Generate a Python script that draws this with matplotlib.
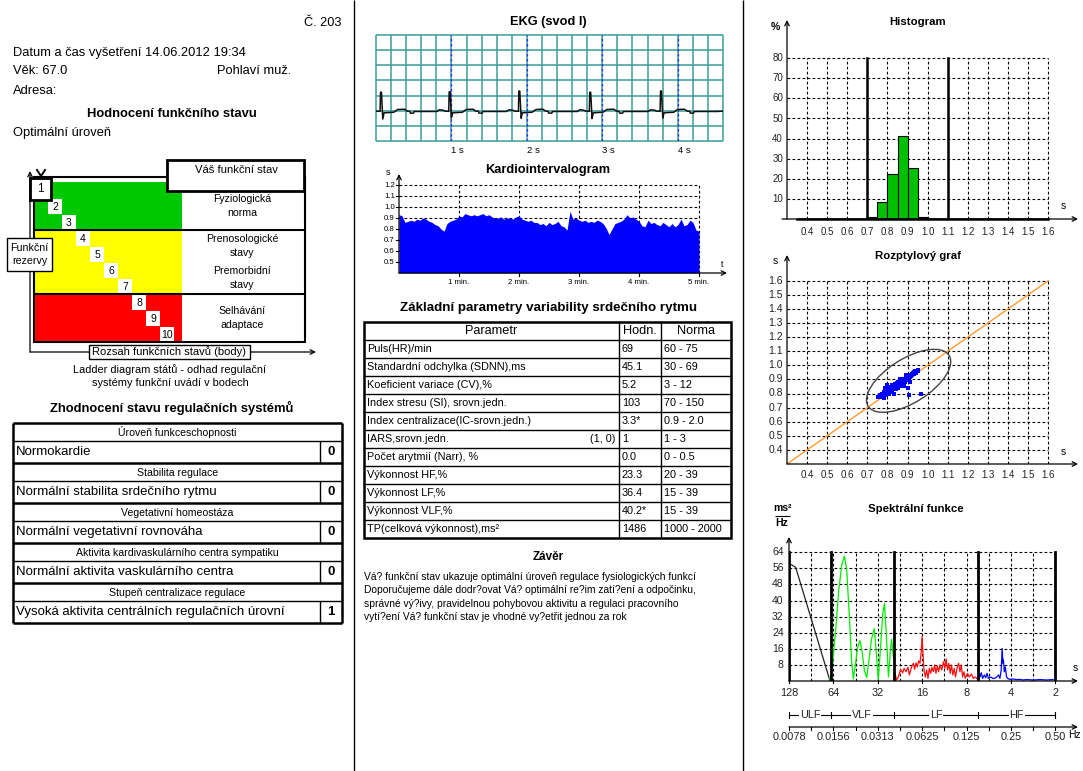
import numpy as np
import matplotlib
matplotlib.use('Agg')
import matplotlib.pyplot as plt
from matplotlib.patches import Rectangle, Ellipse

plt.rcParams['font.family'] = ['Liberation Sans', 'DejaVu Sans']

# ---------------- data ----------------
report_no = "Č. 203"
exam_datetime = "14.06.2012 19:34"
patient_age = "67.0"
patient_sex = "muž."
overall_state = "Optimální úroveň"

ladder_steps = [1, 2, 3, 4, 5, 6, 7, 8, 9, 10]
current_step = 1
zone_last_step = [3, 7, 10]
zone_colors = ['#00c800', '#ffff00', '#ff0000']
zone_labels = ["Fyziologická\nnorma", "Prenosologické\nstavy", "Premorbidní\nstavy", "Selhávání\nadaptace"]

reg_headers = ["Úroveň funkceschopnosti", "Stabilita regulace", "Vegetativní homeostáza",
               "Aktivita kardivaskulárního centra sympatiku", "Stupeň centralizace regulace"]
reg_results = ["Normokardie", "Normální stabilita srdečního rytmu", "Normální vegetativní rovnováha",
               "Normální aktivita vaskulárního centra", "Vysoká aktivita centrálních regulačních úrovní"]
reg_scores = [0, 0, 0, 0, 1]

param_names = ["Puls(HR)/min", "Standardní odchylka (SDNN),ms", "Koeficient variace (CV),%",
               "Index stresu (SI), srovn.jedn.", "Index centralizace(IC-srovn.jedn.)", "IARS,srovn.jedn.",
               "Počet arytmií (Narr), %", "Výkonnost HF,%", "Výkonnost LF,%", "Výkonnost VLF,%",
               "TP(celková výkonnost),ms²"]
param_extra = ["", "", "", "", "", "(1, 0)", "", "", "", "", ""]
param_values = ["69", "45.1", "5.2", "103", "3.3*", "1", "0.0", "23.3", "36.4", "40.2*", "1486"]
param_norms = ["60 - 75", "30 - 69", "3 - 12", "70 - 150", "0.9 - 2.0", "1 - 3", "0 - 0.5",
               "20 - 39", "15 - 39", "15 - 39", "1000 - 2000"]

conclusion_lines = [
    "Vá? funkční stav ukazuje optimální úroveň regulace fysiologických funkcí",
    "Doporučujeme dále dodr?ovat Vá? optimální re?im zatí?ení a odpočinku,",
    "správné vý?ivy, pravidelnou pohybovou aktivitu a regulaci pracovního",
    "vytí?ení Vá? funkční stav je vhodné vy?etřit jednou za rok",
]

# EKG (seconds, grid rows)
ekg_r_times = [0.066, 0.976, 1.900, 2.840, 3.778]
ekg_r_peak = [3.22, 3.25, 3.30, 3.22, 3.30]
ekg_s_dip = [1.45, 1.55, 1.50, 1.48, 1.52]
ekg_beat_dt = [-0.17, -0.14, -0.09, -0.06, -0.012, -0.006, 0.006, 0.024, 0.04, 0.17, 0.22,
               0.31, 0.35, 0.38, 0.39, 0.43, 0.44, 0.74]
ekg_beat_lv = [1.95, 2.06, 2.04, 1.97, 1.96, 'R', 'R', 'S', 1.86, 1.90, 2.08,
               2.10, 1.97, 1.97, 1.84, 1.84, 1.95, 1.95]
ekg_duration = 4.6

# Kardiointervalogram RR (s), one value every 3 s over 5 min
rr_values = [0.93, 0.92, 0.86, 0.87, 0.88, 0.87, 0.89, 0.88, 0.90, 0.89,
             0.87, 0.86, 0.84, 0.83, 0.80, 0.78, 0.85, 0.87, 0.88, 0.89,
             0.92, 0.91, 0.94, 0.93, 0.92, 0.93, 0.92, 0.93, 0.94, 0.92,
             0.93, 0.91, 0.90, 0.90, 0.91, 0.89, 0.90, 0.90, 0.89, 0.91,
             0.92, 0.89, 0.88, 0.87, 0.88, 0.86, 0.86, 0.84, 0.85, 0.83,
             0.86, 0.84, 0.85, 0.87, 0.83, 0.82, 0.79, 0.96, 0.89, 0.90,
             0.88, 0.87, 0.88, 0.86, 0.87, 0.86, 0.88, 0.87, 0.85, 0.81,
             0.75, 0.80, 0.85, 0.86, 0.87, 0.89, 0.93, 0.90, 0.91, 0.89,
             0.87, 0.83, 0.82, 0.88, 0.85, 0.86, 0.84, 0.83, 0.86, 0.84,
             0.82, 0.85, 0.82, 0.84, 0.89, 0.83, 0.84, 0.88, 0.86, 0.79, 0.78]

# Histogram
hist_left = [0.70, 0.75, 0.80, 0.85, 0.90, 0.95]
hist_pct = [0.8, 8.5, 22.5, 41.5, 25.5, 1.2]
hist_limits = [0.7, 1.1]

# Scatter (RR_n, RR_n+1)
sc_x = [0.755, 0.762, 0.770, 0.775, 0.781, 0.785, 0.788, 0.792, 0.795, 0.798, 0.801, 0.803,
        0.806, 0.808, 0.811, 0.813, 0.815, 0.818, 0.820, 0.822, 0.824, 0.826, 0.829, 0.831,
        0.833, 0.835, 0.838, 0.840, 0.842, 0.845, 0.847, 0.850, 0.852, 0.855, 0.857, 0.860,
        0.862, 0.864, 0.867, 0.869, 0.872, 0.874, 0.877, 0.879, 0.882, 0.884, 0.887, 0.889,
        0.892, 0.895, 0.897, 0.900, 0.903, 0.906, 0.909, 0.912, 0.915, 0.918, 0.921, 0.924,
        0.927, 0.930, 0.934, 0.938, 0.942, 0.946, 0.950, 0.953, 0.800, 0.830, 0.860, 0.890,
        0.910, 0.850, 0.880, 0.820, 0.900, 0.965, 0.905, 0.790]
sc_y = [0.772, 0.790, 0.778, 0.800, 0.770, 0.812, 0.795, 0.790, 0.825, 0.805, 0.830, 0.815,
        0.800, 0.840, 0.822, 0.810, 0.845, 0.828, 0.850, 0.815, 0.838, 0.860, 0.830, 0.848,
        0.855, 0.842, 0.868, 0.835, 0.862, 0.850, 0.875, 0.858, 0.842, 0.880, 0.866, 0.872,
        0.888, 0.855, 0.878, 0.892, 0.870, 0.885, 0.896, 0.875, 0.900, 0.888, 0.905, 0.880,
        0.912, 0.895, 0.918, 0.905, 0.920, 0.910, 0.925, 0.915, 0.932, 0.922, 0.940, 0.930,
        0.945, 0.935, 0.950, 0.958, 0.948, 0.962, 0.958, 0.970, 0.860, 0.800, 0.900, 0.930,
        0.880, 0.880, 0.850, 0.860, 0.840, 0.800, 0.790, 0.840]
ellipse_center = (0.905, 0.89)
ellipse_axes = (0.55, 0.27)
ellipse_angle = 48

# Spectrum (x = octaves above 1/128 Hz, y = ms^2/Hz)
ulf_oct = [0.0, 0.15, 0.92]
ulf_val = [58.5, 56.5, 0.3]
vlf_oct = [0.92, 0.98, 1.05, 1.12, 1.19, 1.25, 1.30, 1.36, 1.41, 1.45, 1.50, 1.55, 1.60, 1.65,
           1.70, 1.75, 1.80, 1.86, 1.92, 1.97, 2.01, 2.06, 2.11, 2.15, 2.19, 2.24, 2.28, 2.31, 2.35]
vlf_val = [0.5, 8, 25, 45, 58, 62, 55, 32, 10, 1, 9, 17, 20, 14,
           5, 1.7, 10, 21, 26, 13, 0.5, 16, 33, 38.5, 24, 2, 14, 20.8, 12]
lf_oct = [2.36, 2.387, 2.425, 2.462, 2.515, 2.56, 2.59, 2.635, 2.68, 2.71, 2.74, 2.77, 2.80,
          2.83, 2.86, 2.89, 2.92, 2.95, 2.98, 2.995, 3.018, 3.04, 3.07, 3.10, 3.13, 3.16, 3.19,
          3.22, 3.25, 3.28, 3.31, 3.34, 3.37, 3.40, 3.44, 3.48, 3.51, 3.54, 3.57, 3.60, 3.63,
          3.66, 3.69, 3.72, 3.75, 3.79, 3.82, 3.85, 3.88, 3.91, 3.94, 3.97, 4.02, 4.06, 4.11,
          4.15, 4.20, 4.24, 4.27]
lf_val = [4.0, 3.8, 0.5, 2.0, 5.8, 4.0, 6.3, 4.6, 6.8, 3.0, 5.5, 7.5, 8.8,
          5.8, 9.0, 7.0, 10.0, 8.8, 15.0, 22.0, 13.7, 5.5, 2.0, 5.5, 1.3, 6.3, 3.8,
          6.8, 4.6, 8.0, 3.8, 7.5, 4.6, 8.0, 5.5, 9.6, 6.3, 11.0, 5.5, 8.8, 3.8,
          8.0, 3.0, 6.3, 2.0, 7.0, 8.8, 4.6, 8.0, 2.0, 4.6, 1.3, 3.8, 2.0, 3.5,
          1.3, 2.0, 1.0, 1.3]
hf_oct = [4.27, 4.30, 4.33, 4.36, 4.40, 4.43, 4.46, 4.49, 4.54, 4.60, 4.66, 4.72, 4.75, 4.78,
          4.80, 4.82, 4.83, 4.85, 4.87, 4.90, 4.93, 4.98, 5.05, 5.12, 5.20, 5.27, 5.35, 5.50,
          5.65, 5.80, 5.95]
hf_val = [3.8, 2.0, 4.1, 1.3, 3.0, 1.6, 3.8, 1.3, 2.0, 1.2, 1.6, 3.0, 1.3, 5.5,
          16.2, 8.8, 10.4, 4.6, 7.0, 2.0, 1.2, 0.8, 1.0, 0.7, 0.8, 0.5, 0.7, 0.5,
          0.7, 0.5, 0.7]
band_hz = [0.0078125, 0.015, 0.04, 0.15, 0.5]
band_names = ["ULF", "VLF", "LF", "HF"]
period_labels = ["128", "64", "32", "16", "8", "4", "2"]
freq_labels = ["0.0078", "0.0156", "0.0313", "0.0625", "0.125", "0.25", "0.50"]

# ---------------- figure ----------------
W, H = 1083, 771
fig = plt.figure(figsize=(W / 100, H / 100), dpi=100)
fig.patch.set_facecolor('white')
bg = fig.add_axes([0, 0, 1, 1])
bg.set_xlim(0, W)
bg.set_ylim(H, 0)
bg.axis('off')


def pax(x0, y0, x1, y1):
    a = fig.add_axes([x0 / W, 1 - y1 / H, (x1 - x0) / W, (y1 - y0) / H])
    a.axis('off')
    return a


def arrow(ax, x0, y0, x1, y1, lw=0.9):
    ax.annotate('', xy=(x1, y1), xytext=(x0, y0),
                arrowprops=dict(arrowstyle='->', lw=lw, color='black', shrinkA=0, shrinkB=0,
                                mutation_scale=8),
                annotation_clip=False)


def hline(ax, x0, x1, y, **kw):
    ax.plot([x0, x1], [y, y], solid_capstyle='butt', **kw)


def vline(ax, x, y0, y1, **kw):
    ax.plot([x, x], [y0, y1], solid_capstyle='butt', **kw)


DASH = dict(color='black', lw=0.8, dashes=(2.5, 2))

# column separators
vline(bg, 353.5, 0, H, color='black', lw=1)
vline(bg, 742.5, 0, H, color='black', lw=1)

# ---------------- left column ----------------
bg.text(341, 23, report_no, ha='right', va='center', fontsize=9.2)
bg.text(13, 53, "Datum a čas vyšetření " + exam_datetime, ha='left', va='center', fontsize=9.3)
bg.text(13, 71, "Věk: " + patient_age, ha='left', va='center', fontsize=9.3)
bg.text(217, 71, "Pohlaví " + patient_sex, ha='left', va='center', fontsize=9.3)
bg.text(13, 91, "Adresa:", ha='left', va='center', fontsize=9.3)
bg.text(172, 114, "Hodnocení funkčního stavu", ha='center', va='center', fontsize=9.4, fontweight='bold')
bg.text(13, 133, overall_state, ha='left', va='center', fontsize=9.3)

# ladder diagram
LX0, LX1, LXC = 34, 305, 182
row_h, top0 = 16, 182
bounds = [top0]
for last in zone_last_step:
    bounds.append(top0 + row_h * last)
for k, col in enumerate(zone_colors):
    bg.add_patch(Rectangle((LX0, bounds[k]), LXC - LX0, bounds[k + 1] - bounds[k],
                           facecolor=col, edgecolor='none', zorder=1))
bg.add_patch(Rectangle((LX0, 177), LX1 - LX0, bounds[-1] - 177, facecolor='none',
                       edgecolor='black', lw=1.5, zorder=3))
for b in bounds[1:-1]:
    hline(bg, LX0, LX1, b, color='black', lw=1.5, zorder=3)
for s in ladder_steps:
    if s == current_step:
        continue
    bx = 20 + 14 * s
    by = top0 + row_h * (s - 1) + 1
    bg.add_patch(Rectangle((bx, by), 14, 15, facecolor='white', edgecolor='none', zorder=2))
    bg.text(bx + 7, by + 7.5, str(s), ha='center', va='center', fontsize=7.5, zorder=4)
bg.add_patch(Rectangle((30, 178), 21, 22, facecolor='white', edgecolor='black', lw=2, zorder=5))
bg.text(40.5, 189, str(current_step), ha='center', va='center', fontsize=8.5, zorder=6)
bg.plot([37, 41, 45], [170, 176, 170], color='black', lw=1.4, zorder=6)

label_y = [206, 246, 278, 318]
for lab, yy in zip(zone_labels, label_y):
    bg.text(242, yy, lab, ha='center', va='center', fontsize=7.6, linespacing=1.55, zorder=4)

bg.add_patch(Rectangle((167, 160), 137, 31, facecolor='white', edgecolor='black', lw=2, zorder=5))
bg.text(236, 170, "Váš funkční stav", ha='center', va='center', fontsize=8.1, zorder=6)

arrow(bg, 30, 352, 30, 171)
arrow(bg, 30, 352, 316, 352)
bg.add_patch(Rectangle((7, 238), 45, 33, facecolor='white', edgecolor='black', lw=1, zorder=5))
bg.text(29.5, 254.5, "Funkční\nrezervy", ha='center', va='center', fontsize=7.7, linespacing=1.35, zorder=6)
bg.add_patch(Rectangle((89, 345), 161, 14, facecolor='white', edgecolor='black', lw=1, zorder=5))
bg.text(169.5, 352, "Rozsah funkčních stavů (body)", ha='center', va='center', fontsize=8, zorder=6)
bg.text(170, 376, "Ladder diagram států - odhad regulační\nsystémy funkční uvádí v bodech",
        ha='center', va='center', fontsize=7.9, linespacing=1.4)

# regulation systems table
bg.text(172, 408, "Zhodnocení stavu regulačních systémů", ha='center', va='center',
        fontsize=9.4, fontweight='bold')
TX0, TX1, TXS = 13, 342, 320
for k, (hd, res, sc) in enumerate(zip(reg_headers, reg_results, reg_scores)):
    y0 = 423 + 40 * k
    bg.text((TX0 + TX1) / 2, y0 + 9.5, hd, ha='center', va='center', fontsize=7.6)
    bg.text(TX0 + 3, y0 + 29, res, ha='left', va='center', fontsize=9.5)
    bg.text((TXS + TX1) / 2, y0 + 29, str(sc), ha='center', va='center', fontsize=9.5, fontweight='bold')
    hline(bg, TX0, TX1, y0 + 18, color='black', lw=1)
    vline(bg, TXS, y0 + 18, y0 + 40, color='black', lw=1)
    hline(bg, TX0, TX1, y0, color='black', lw=1.8)
hline(bg, TX0, TX1, 623, color='black', lw=1.8)
vline(bg, TX0, 423, 623, color='black', lw=1.8)
vline(bg, TX1, 423, 623, color='black', lw=1.8)

# ---------------- middle column ----------------
# EKG
bg.text(548, 22, "EKG (svod I)", ha='center', va='center', fontsize=9.2, fontweight='bold')
axe = pax(376, 35, 723, 141)
axe.set_xlim(0, ekg_duration)
axe.set_ylim(0, 7)
grid_col = '#3b9c97'
for i in range(24):
    vline(axe, i * 0.2, 0, 7, color=grid_col, lw=1.1, clip_on=False)
for j in range(8):
    hline(axe, 0, ekg_duration, j, color=grid_col, lw=1.1, clip_on=False)
for sec in [1, 2, 3, 4]:
    axe.plot([sec, sec], [0, 7], color='#2b2bff', lw=0.9, dashes=(2, 2), zorder=3)
    axe.text(sec, -0.6, f"{sec} s", ha='left', va='center', fontsize=6.8)
ekg_t, ekg_v = [0.0], [1.97]
for rt, rp, sd in zip(ekg_r_times, ekg_r_peak, ekg_s_dip):
    for dt, lv in zip(ekg_beat_dt, ekg_beat_lv):
        tt = rt + dt
        if tt <= ekg_t[-1] or tt >= ekg_duration:
            continue
        ekg_t.append(tt)
        ekg_v.append(rp if lv == 'R' else (sd if lv == 'S' else lv))
ekg_t.append(ekg_duration)
ekg_v.append(1.97)
axe.plot(ekg_t, ekg_v, color='#111111', lw=1.1, zorder=4)

# Kardiointervalogram
bg.text(548, 170, "Kardiointervalogram", ha='center', va='center', fontsize=9.2, fontweight='bold')
axk = pax(399, 174, 727, 273)
axk.set_xlim(0, 328 / 60)
axk.set_ylim(0.4, 1.3)
t_min = np.linspace(0, 5, len(rr_values))
for v in [0.9, 1.0, 1.1, 1.2]:
    axk.plot([0, 5], [v, v], zorder=1, **DASH)
for m in [1, 2, 3, 4, 5]:
    axk.plot([m, m], [0.4, 1.2], zorder=1, **DASH)
axk.fill_between(t_min, 0.4, rr_values, color='#0000ff', lw=0, zorder=2)
arrow(axk, 0, 0.4, 0, 1.3)
arrow(axk, 0, 0.4, 328 / 60, 0.4)
for v in [0.5, 0.6, 0.7, 0.8, 0.9, 1.0, 1.1, 1.2]:
    axk.plot([-0.05, 0], [v, v], color='black', lw=0.8, clip_on=False)
    axk.text(-0.07, v, f"{v:.1f}", ha='right', va='center', fontsize=5.6)
for m in [1, 2, 3, 4, 5]:
    axk.plot([m, m], [0.4, 0.37], color='black', lw=0.8, clip_on=False)
    axk.text(m, 0.318, f"{m} min.", ha='center', va='center', fontsize=5.6)
axk.text(-0.18, 1.31, "s", ha='center', va='center', fontsize=6.5)
axk.text(5.38, 0.475, "t", ha='center', va='center', fontsize=6.5)

# parameters table
bg.text(548, 308, "Základní parametry variability srdečního rytmu", ha='center', va='center',
        fontsize=9.6, fontweight='bold')
PX0, PX1, PC1, PC2 = 364, 731, 619, 661
PY0, PRH = 322, 18
n_rows = len(param_names) + 1
bg.add_patch(Rectangle((PX0, PY0), PX1 - PX0, PRH * n_rows, facecolor='none', edgecolor='black', lw=1.8))
vline(bg, PC1, PY0, PY0 + PRH * n_rows, color='black', lw=1)
vline(bg, PC2, PY0, PY0 + PRH * n_rows, color='black', lw=1)
for r in range(1, n_rows):
    hline(bg, PX0, PX1, PY0 + PRH * r, color='black', lw=1)
bg.text((PX0 + PC1) / 2, PY0 + 9.5, "Parametr", ha='center', va='center', fontsize=9.2)
bg.text((PC1 + PC2) / 2, PY0 + 9.5, "Hodn.", ha='center', va='center', fontsize=9.2)
bg.text((PC2 + PX1) / 2, PY0 + 9.5, "Norma", ha='center', va='center', fontsize=9.2)
for i, (nm, ex, vl, nr) in enumerate(zip(param_names, param_extra, param_values, param_norms)):
    yc = PY0 + PRH * (i + 1) + 9.5
    bg.text(PX0 + 3, yc, nm, ha='left', va='center', fontsize=7.8)
    if ex:
        bg.text(PC1 - 4, yc, ex, ha='right', va='center', fontsize=7.8)
    bg.text(PC1 + 3, yc, vl, ha='left', va='center', fontsize=7.8)
    bg.text(PC2 + 3, yc, nr, ha='left', va='center', fontsize=7.8)

bg.text(548, 557, "Závěr", ha='center', va='center', fontsize=8.4, fontweight='bold')
for i, line in enumerate(conclusion_lines):
    bg.text(364, 577 + 13.4 * i, line, ha='left', va='center', fontsize=7.4)

# ---------------- right column ----------------
# Histogram
bg.text(918, 22, "Histogram", ha='center', va='center', fontsize=8.2, fontweight='bold')
axh = pax(787, 20, 1078, 219)
axh.set_xlim(0.3, 0.3 + 291 / 201)
axh.set_ylim(0, 199 / 2.01)
ticks_s = [0.4, 0.5, 0.6, 0.7, 0.8, 0.9, 1.0, 1.1, 1.2, 1.3, 1.4, 1.5, 1.6]
for v in [10, 20, 30, 40, 50, 60, 70, 80]:
    axh.plot([0.3, 1.6], [v, v], zorder=1, **DASH)
    axh.text(0.28, v, str(v), ha='right', va='center', fontsize=7, color='#222222')
for x in ticks_s:
    axh.plot([x, x], [0, 80], zorder=1, **DASH)
    axh.text(x, -6.5, f"{x:.1f}", ha='center', va='center', fontsize=7, color='#222222')
axh.bar(hist_left, hist_pct, width=0.05, align='edge', color='#00c000', edgecolor='black', lw=0.8, zorder=3)
for lim in hist_limits:
    axh.plot([lim, lim], [0, 80], color='black', lw=1.8, zorder=4)
axh.plot([0.35, 1.6], [0, 0], color='black', lw=1.8, zorder=4, clip_on=False)
arrow(axh, 0.275, 0, 0.3 + 291 / 201, 0)
arrow(axh, 0.3, 0, 0.3, 199 / 2.01)
bg.text(775, 27, "%", ha='center', va='center', fontsize=7.5, fontweight='bold')
bg.text(1063, 206, "s", ha='center', va='center', fontsize=7.5)

# Scatter
bg.text(918, 256, "Rozptylový graf", ha='center', va='center', fontsize=8.2, fontweight='bold')
axs = pax(787, 255, 1078, 464)
axs.set_xlim(0.3, 0.3 + 291 / 201)
axs.set_ylim(0.3, 0.3 + 209 / 141)
for v in ticks_s:
    axs.plot([0.3, 1.6], [v, v], zorder=1, **DASH)
    axs.plot([v, v], [0.3, 1.6], zorder=1, **DASH)
    axs.text(0.28, v, f"{v:.1f}", ha='right', va='center', fontsize=7.5, color='#222222')
    axs.text(v, 0.3 - 11 / 141, f"{v:.1f}", ha='center', va='center', fontsize=7, color='#222222')
axs.plot([0.3, 1.6], [0.3, 1.6], color='#ff9a2e', lw=1, zorder=2)
axs.add_patch(Ellipse(ellipse_center, ellipse_axes[0], ellipse_axes[1], angle=ellipse_angle,
                      facecolor='none', edgecolor='#444444', lw=1, zorder=3))
axs.scatter(sc_x, sc_y, s=6, marker='s', color='#0000ff', linewidths=0, zorder=4)
arrow(axs, 0.3, 0.3, 0.3 + 291 / 201, 0.3)
arrow(axs, 0.3, 0.3, 0.3, 0.3 + 209 / 141)
bg.text(775, 261, "s", ha='center', va='center', fontsize=7.5)
bg.text(1063, 452, "s", ha='center', va='center', fontsize=7.5)

# Spectrum
bg.text(916, 509, "Spektrální funkce", ha='center', va='center', fontsize=8.2, fontweight='bold')
bg.text(782, 508, "ms²", ha='center', va='center', fontsize=7.5, fontweight='bold')
hline(bg, 775, 790, 516, color='black', lw=0.8)
bg.text(782, 523, "Hz", ha='center', va='center', fontsize=7.5, fontweight='bold')
XMAX = 289 / 44.4
axp = pax(789, 537, 1078, 681)
axp.set_xlim(0, XMAX)
axp.set_ylim(0, 144 * 8 / 16.1)
for v in [8, 16, 24, 32, 40, 48, 56, 64]:
    axp.plot([0, 6], [v, v], zorder=1, **DASH)
    axp.text(-0.12, v, str(v), ha='right', va='center', fontsize=7.5, color='#222222')
for k in range(1, 12):
    axp.plot([k * 0.5, k * 0.5], [0, 64], zorder=1, **DASH)
band_oct = [float(np.log2(f / band_hz[0])) for f in band_hz]
for bo in band_oct:
    axp.plot([bo, bo], [0, 64], color='black', lw=2, zorder=4)
axp.plot(ulf_oct, ulf_val, color='#222222', lw=0.9, zorder=3)
axp.plot(vlf_oct, vlf_val, color='#00ee00', lw=0.9, zorder=3)
axp.plot(lf_oct, lf_val, color='#ff1010', lw=0.9, zorder=3)
axp.plot(hf_oct, hf_val, color='#0000ff', lw=0.9, zorder=3)
arrow(axp, 0, 0, XMAX, 0)
arrow(axp, 0, 0, 0, 144 * 8 / 16.1)
for k, lab in enumerate(period_labels):
    axp.plot([k, k], [0, -1.2], color='black', lw=0.8, clip_on=False)
    axp.text(k, -6, lab, ha='center', va='center', fontsize=7.9, color='#222222')
axp.text(6.45, 6.5, "s", ha='center', va='center', fontsize=7.5)

axf = pax(789, 700, 1078, 745)
axf.set_xlim(0, XMAX)
axf.set_ylim(0, 1)
hline(axf, 0, 6, 0.667, color='black', lw=0.8)
for bo in band_oct:
    axf.plot([bo, bo], [0.6, 0.73], color='black', lw=0.8)
for k, nm in enumerate(band_names):
    axf.text((band_oct[k] + band_oct[k + 1]) / 2, 0.667, nm, ha='center', va='center', fontsize=7.8,
             color='#222222', bbox=dict(facecolor='white', edgecolor='none', pad=0.6))
arrow(axf, 0, 0.4, XMAX, 0.4)
for k in range(13):
    axf.plot([k * 0.5, k * 0.5], [0.4, 0.33], color='black', lw=0.8)
for k, lab in enumerate(freq_labels):
    axf.text(k, 0.178, lab, ha='center', va='center', fontsize=7.9, color='#222222')
axf.text(6.44, 0.22, "Hz", ha='center', va='center', fontsize=7.5)

fig.savefig('out.png', dpi=100, facecolor='white')
